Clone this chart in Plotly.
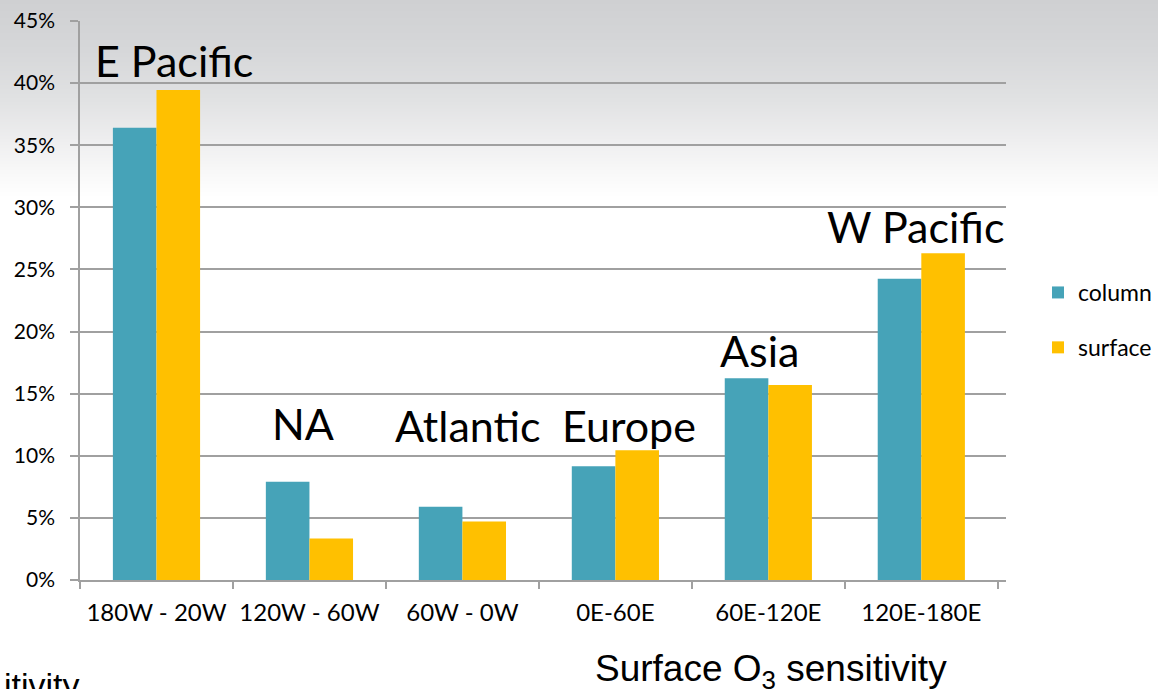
import base64
import struct
import zlib

import plotly.graph_objects as go

# ---- data -------------------------------------------------------------
regions = ["180W - 20W", "120W - 60W", "60W - 0W", "0E-60E", "60E-120E", "120E-180E"]
column = [36.4, 7.9, 5.9, 9.15, 16.25, 24.25]
surface = [39.45, 3.35, 4.7, 10.45, 15.7, 26.3]
region_names = ["E Pacific", "NA", "Atlantic", "Europe", "Asia", "W Pacific"]

# label anchor positions (category index offset, value axis)
name_x = [0.116, 0.955, 2.034, 3.087, 3.942, 4.962]
name_y = [41.8, 12.6, 12.4, 12.45, 18.5, 28.45]

TEAL = "#46A3B8"
GOLD = "#FFC000"
GRID = "#a0a0a0"

W, H = 1158, 689
L, R, T, B = 80, 152, 21, 109
PW, PH = W - L - R, H - T - B


def gradient_png(height, stops):
    """Vertical grey-to-white strip encoded as a tiny PNG data URI."""
    rows = b""
    for y in range(height):
        for i in range(len(stops) - 1):
            y0, c0 = stops[i]
            y1, c1 = stops[i + 1]
            if y0 <= y <= y1:
                t = (y - y0) / (y1 - y0) if y1 > y0 else 0
                c = [round(a + (b - a) * t) for a, b in zip(c0, c1)]
                break
        else:
            c = list(stops[-1][1])
        rows += b"\x00" + bytes(c) * 4

    def chunk(tag, data):
        return (struct.pack(">I", len(data)) + tag + data
                + struct.pack(">I", zlib.crc32(tag + data) & 0xFFFFFFFF))

    png = (b"\x89PNG\r\n\x1a\n"
           + chunk(b"IHDR", struct.pack(">IIBBBBB", 4, height, 8, 2, 0, 0, 0))
           + chunk(b"IDAT", zlib.compress(rows))
           + chunk(b"IEND", b""))
    return "data:image/png;base64," + base64.b64encode(png).decode()


sky = gradient_png(200, [
    (0, (207, 208, 210)),
    (50, (214, 215, 217)),
    (100, (225, 226, 227)),
    (140, (238, 238, 239)),
    (165, (246, 246, 246)),
    (185, (252, 252, 252)),
    (198, (255, 255, 255)),
    (199, (255, 255, 255)),
])

fig = go.Figure()
fig.add_trace(go.Bar(name="column", x=regions, y=column, marker=dict(color=TEAL, line=dict(width=0)),
                     legendgroup="a"))
fig.add_trace(go.Bar(name="surface", x=regions, y=surface, marker=dict(color=GOLD, line=dict(width=0)),
                     legendgroup="b"))

annotations = []
for nm, ax, ay in zip(region_names, name_x, name_y):
    annotations.append(dict(x=ax, y=ay, xref="x", yref="y", text=nm, showarrow=False,
                            xanchor="center", yanchor="middle",
                            font=dict(family="Lato", size=43, color="#000000")))

annotations.append(dict(x=(771 - L) / PW, y=-(671 - (T + PH)) / PH, xref="paper", yref="paper",
                        text="Surface O<sub>3</sub> sensitivity", showarrow=False,
                        xanchor="center", yanchor="middle",
                        font=dict(family="Liberation Sans", size=37, color="#000000")))
annotations.append(dict(x=(2 - L) / PW, y=-(685 - (T + PH)) / PH, xref="paper", yref="paper",
                        text="itivity", showarrow=False, xanchor="left", yanchor="middle",
                        font=dict(family="Liberation Sans", size=34, color="#000000")))

fig.update_layout(
    width=W, height=H,
    margin=dict(l=L, r=R, t=T, b=B, pad=0, autoexpand=False),
    paper_bgcolor="white",
    plot_bgcolor="rgba(0,0,0,0)",
    barmode="group", bargap=0.43, bargroupgap=0,
    font=dict(family="Lato", size=18, color="#000000"),
    showlegend=True,
    legend=dict(x=(1038 - L) / PW, xanchor="left", y=1 - (271 - T) / PH, yanchor="top",
                font=dict(family="Lato", size=23, color="#000000"),
                bgcolor="rgba(0,0,0,0)", tracegroupgap=22, traceorder="grouped",
                itemwidth=30),
    annotations=annotations,
    images=[dict(source=sky, xref="paper", yref="paper", x=-L / PW, y=1 + T / PH,
                 sizex=W / PW, sizey=200 / PH, sizing="stretch", xanchor="left", yanchor="top",
                 layer="below")],
)

fig.update_xaxes(type="category", showline=True, linecolor=GRID, linewidth=1.5,
                 ticks="outside", tickson="boundaries", ticklen=7, tickcolor=GRID, tickwidth=1.5,
                 showgrid=False, tickfont=dict(family="Lato", size=24), ticklabelstandoff=10)
fig.update_yaxes(range=[0, 45], dtick=5, ticksuffix="%", showline=True, linecolor=GRID, linewidth=1.5,
                 ticks="outside", ticklen=8, tickcolor=GRID, tickwidth=1.5,
                 showgrid=True, gridcolor=GRID, gridwidth=1.5, zeroline=False,
                 tickfont=dict(family="Lato", size=21), ticklabelstandoff=11)

fig.write_html("out.html")
